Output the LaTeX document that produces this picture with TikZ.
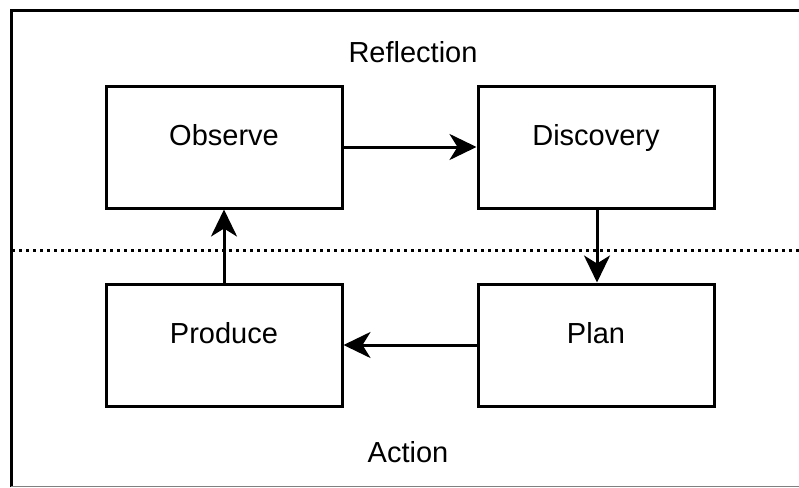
\documentclass[tikz,border=0pt]{standalone}
\usepackage{fontspec}
\setmainfont{Liberation Sans}
\usetikzlibrary{positioning}
\usetikzlibrary{arrows.meta}

\begin{document}
\begin{tikzpicture}[x=1pt, y=-1pt,
					every node/.append style={font=\fontsize{29}{34}\selectfont},
					block/.style={draw, line width=3pt, minimum width=236pt, minimum height=122pt,
						text height=12pt, text depth=16pt},
					flow/.style={line width=3pt, -{Stealth[length=27pt, width=26pt, inset=8pt]}}]
					\useasboundingbox (0,0) rectangle (799,487);
					% frame
					\draw[line width=3pt] (11,487) -- (11,11) -- (799,11);
					\draw[gray, line width=1pt] (11,486) -- (799,486);
					\draw[line width=3pt, dash pattern=on 3pt off 4pt] (12,250) -- (799,250);
					% boxes
					\node [block] (observe) at (224,147) {Observe};
					\node [block, right=133pt of observe] (discovery) {Discovery};
					\node [block, below=73pt of discovery] (plan) {Plan};
					\node [block, below=73pt of observe] (produce) {Produce};
					% labels
					\node (reflection) at (413,52) {Reflection};
					\node (action) at (408,452) {Action};
					% cycle
					\draw [flow] (observe) -- (discovery);
					\draw [flow] (discovery.south -| 597,0) -- (plan.north -| 597,0);
					\draw [flow] (plan) -- (produce);
					\draw [flow] (produce) -- (observe);
\end{tikzpicture}
\end{document}
